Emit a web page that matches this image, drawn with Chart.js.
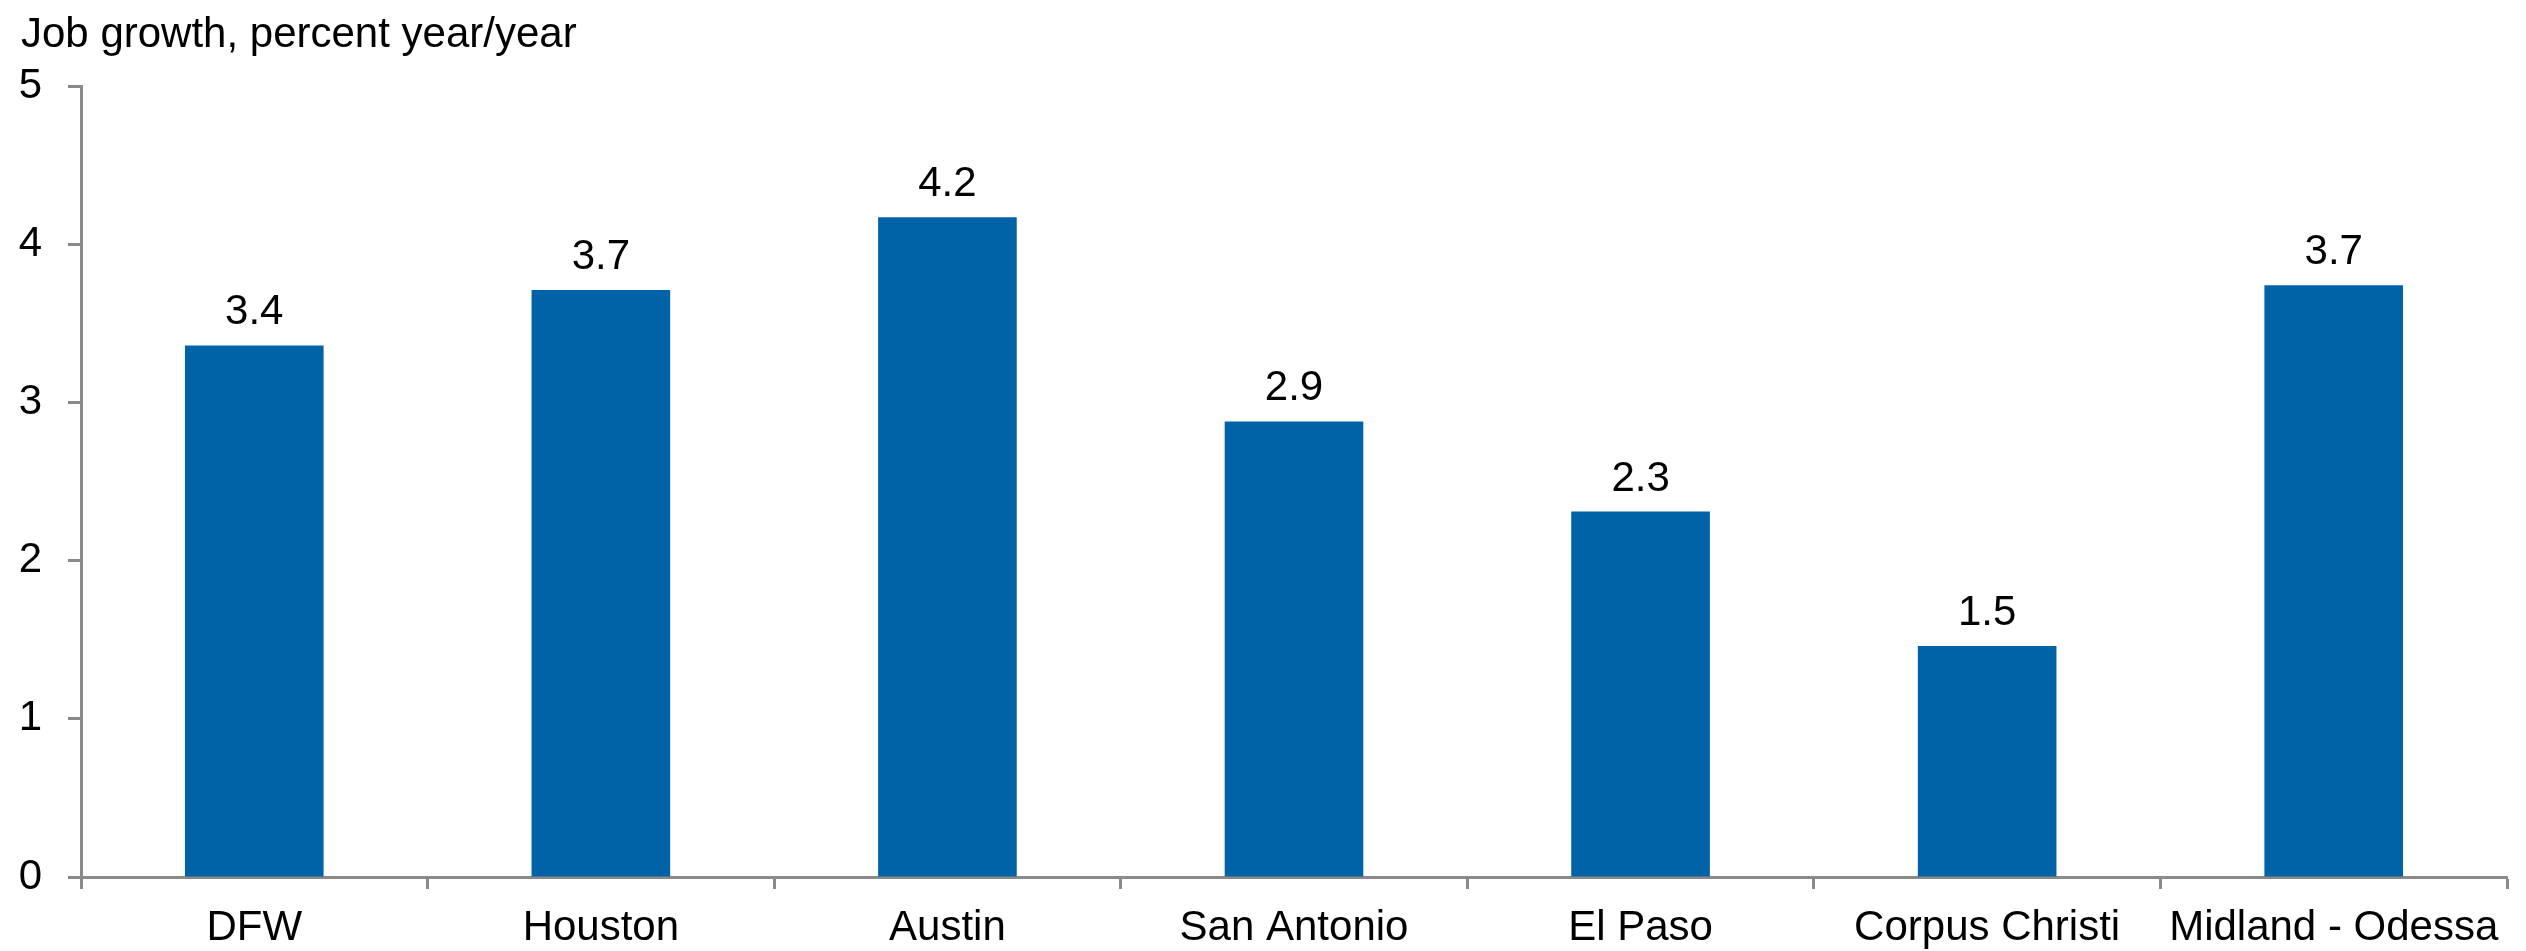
<!DOCTYPE html>
<html>
<head>
<meta charset="utf-8">
<title>Job growth by metro</title>
<script src="https://cdn.jsdelivr.net/npm/chart.js@4/dist/chart.umd.min.js"></script>
<style>
  html, body { margin: 0; padding: 0; background: #fff; }
  #wrap { width: 2526px; height: 951px; }
</style>
</head>
<body>
<div id="wrap"><canvas id="jobChart" width="2526" height="951"></canvas></div>
<script>
// Texas metros, year-over-year job growth (percent)
const metros = ["DFW", "Houston", "Austin", "San Antonio", "El Paso", "Corpus Christi", "Midland - Odessa"];
const growth = [3.36, 3.71, 4.17, 2.88, 2.31, 1.46, 3.74];
const yTicks = [0, 1, 2, 3, 4, 5];

const titleText = "Job growth, percent year/year";
const FONT = "'Liberation Sans', Arial, Helvetica, sans-serif";
const SIZE = 42;
const BLUE = "#0063A8";
const AXIS = "#8a8a8a";

// left-aligned heading above the axis
const headingPlugin = {
  id: "heading",
  afterDraw(chart) {
    const ctx = chart.ctx;
    ctx.save();
    ctx.font = SIZE + "px " + FONT;
    ctx.fillStyle = "#000";
    ctx.textAlign = "left";
    ctx.textBaseline = "alphabetic";
    ctx.fillText(titleText, 21, 47);
    ctx.restore();
  }
};

// value labels over each bar
const valueLabels = {
  id: "valueLabels",
  afterDatasetsDraw(chart) {
    const ctx = chart.ctx;
    const meta = chart.getDatasetMeta(0);
    ctx.save();
    ctx.font = SIZE + "px " + FONT;
    ctx.fillStyle = "#000";
    ctx.textAlign = "center";
    ctx.textBaseline = "alphabetic";
    meta.data.forEach((bar, i) => {
      ctx.fillText(growth[i].toFixed(1), bar.x, bar.y - 21);
    });
    ctx.restore();
  }
};

new Chart(document.getElementById("jobChart"), {
  type: "bar",
  data: {
    labels: metros,
    datasets: [{
      data: growth,
      backgroundColor: BLUE,
      borderWidth: 0,
      barPercentage: 0.4,
      categoryPercentage: 1.0
    }]
  },
  options: {
    responsive: false,
    animation: false,
    devicePixelRatio: 1,
    layout: { padding: { top: 86, right: 19, left: 0, bottom: 0 } },
    plugins: {
      legend: { display: false },
      tooltip: { enabled: false },
      title: { display: false }
    },
    scales: {
      x: {
        grid: {
          display: true,
          offset: true,
          drawOnChartArea: false,
          drawTicks: true,
          tickLength: 12,
          tickWidth: 3,
          color: AXIS
        },
        border: { display: true, color: AXIS, width: 3 },
        ticks: {
          color: "#000",
          font: { family: FONT, size: SIZE },
          padding: 14,
          maxRotation: 0,
          autoSkip: false
        },
        afterFit(scale) { scale.height = 74; }
      },
      y: {
        min: 0,
        max: 5,
        afterBuildTicks(scale) { scale.ticks = yTicks.map(v => ({ value: v })); },
        grid: {
          display: true,
          drawOnChartArea: false,
          drawTicks: true,
          tickLength: 13,
          tickWidth: 3,
          color: AXIS
        },
        border: { display: true, color: AXIS, width: 3 },
        ticks: {
          color: "#000",
          font: { family: FONT, size: SIZE },
          padding: 26
        },
        afterFit(scale) { scale.width = 81; }
      }
    }
  },
  plugins: [headingPlugin, valueLabels]
});
</script>
</body>
</html>
